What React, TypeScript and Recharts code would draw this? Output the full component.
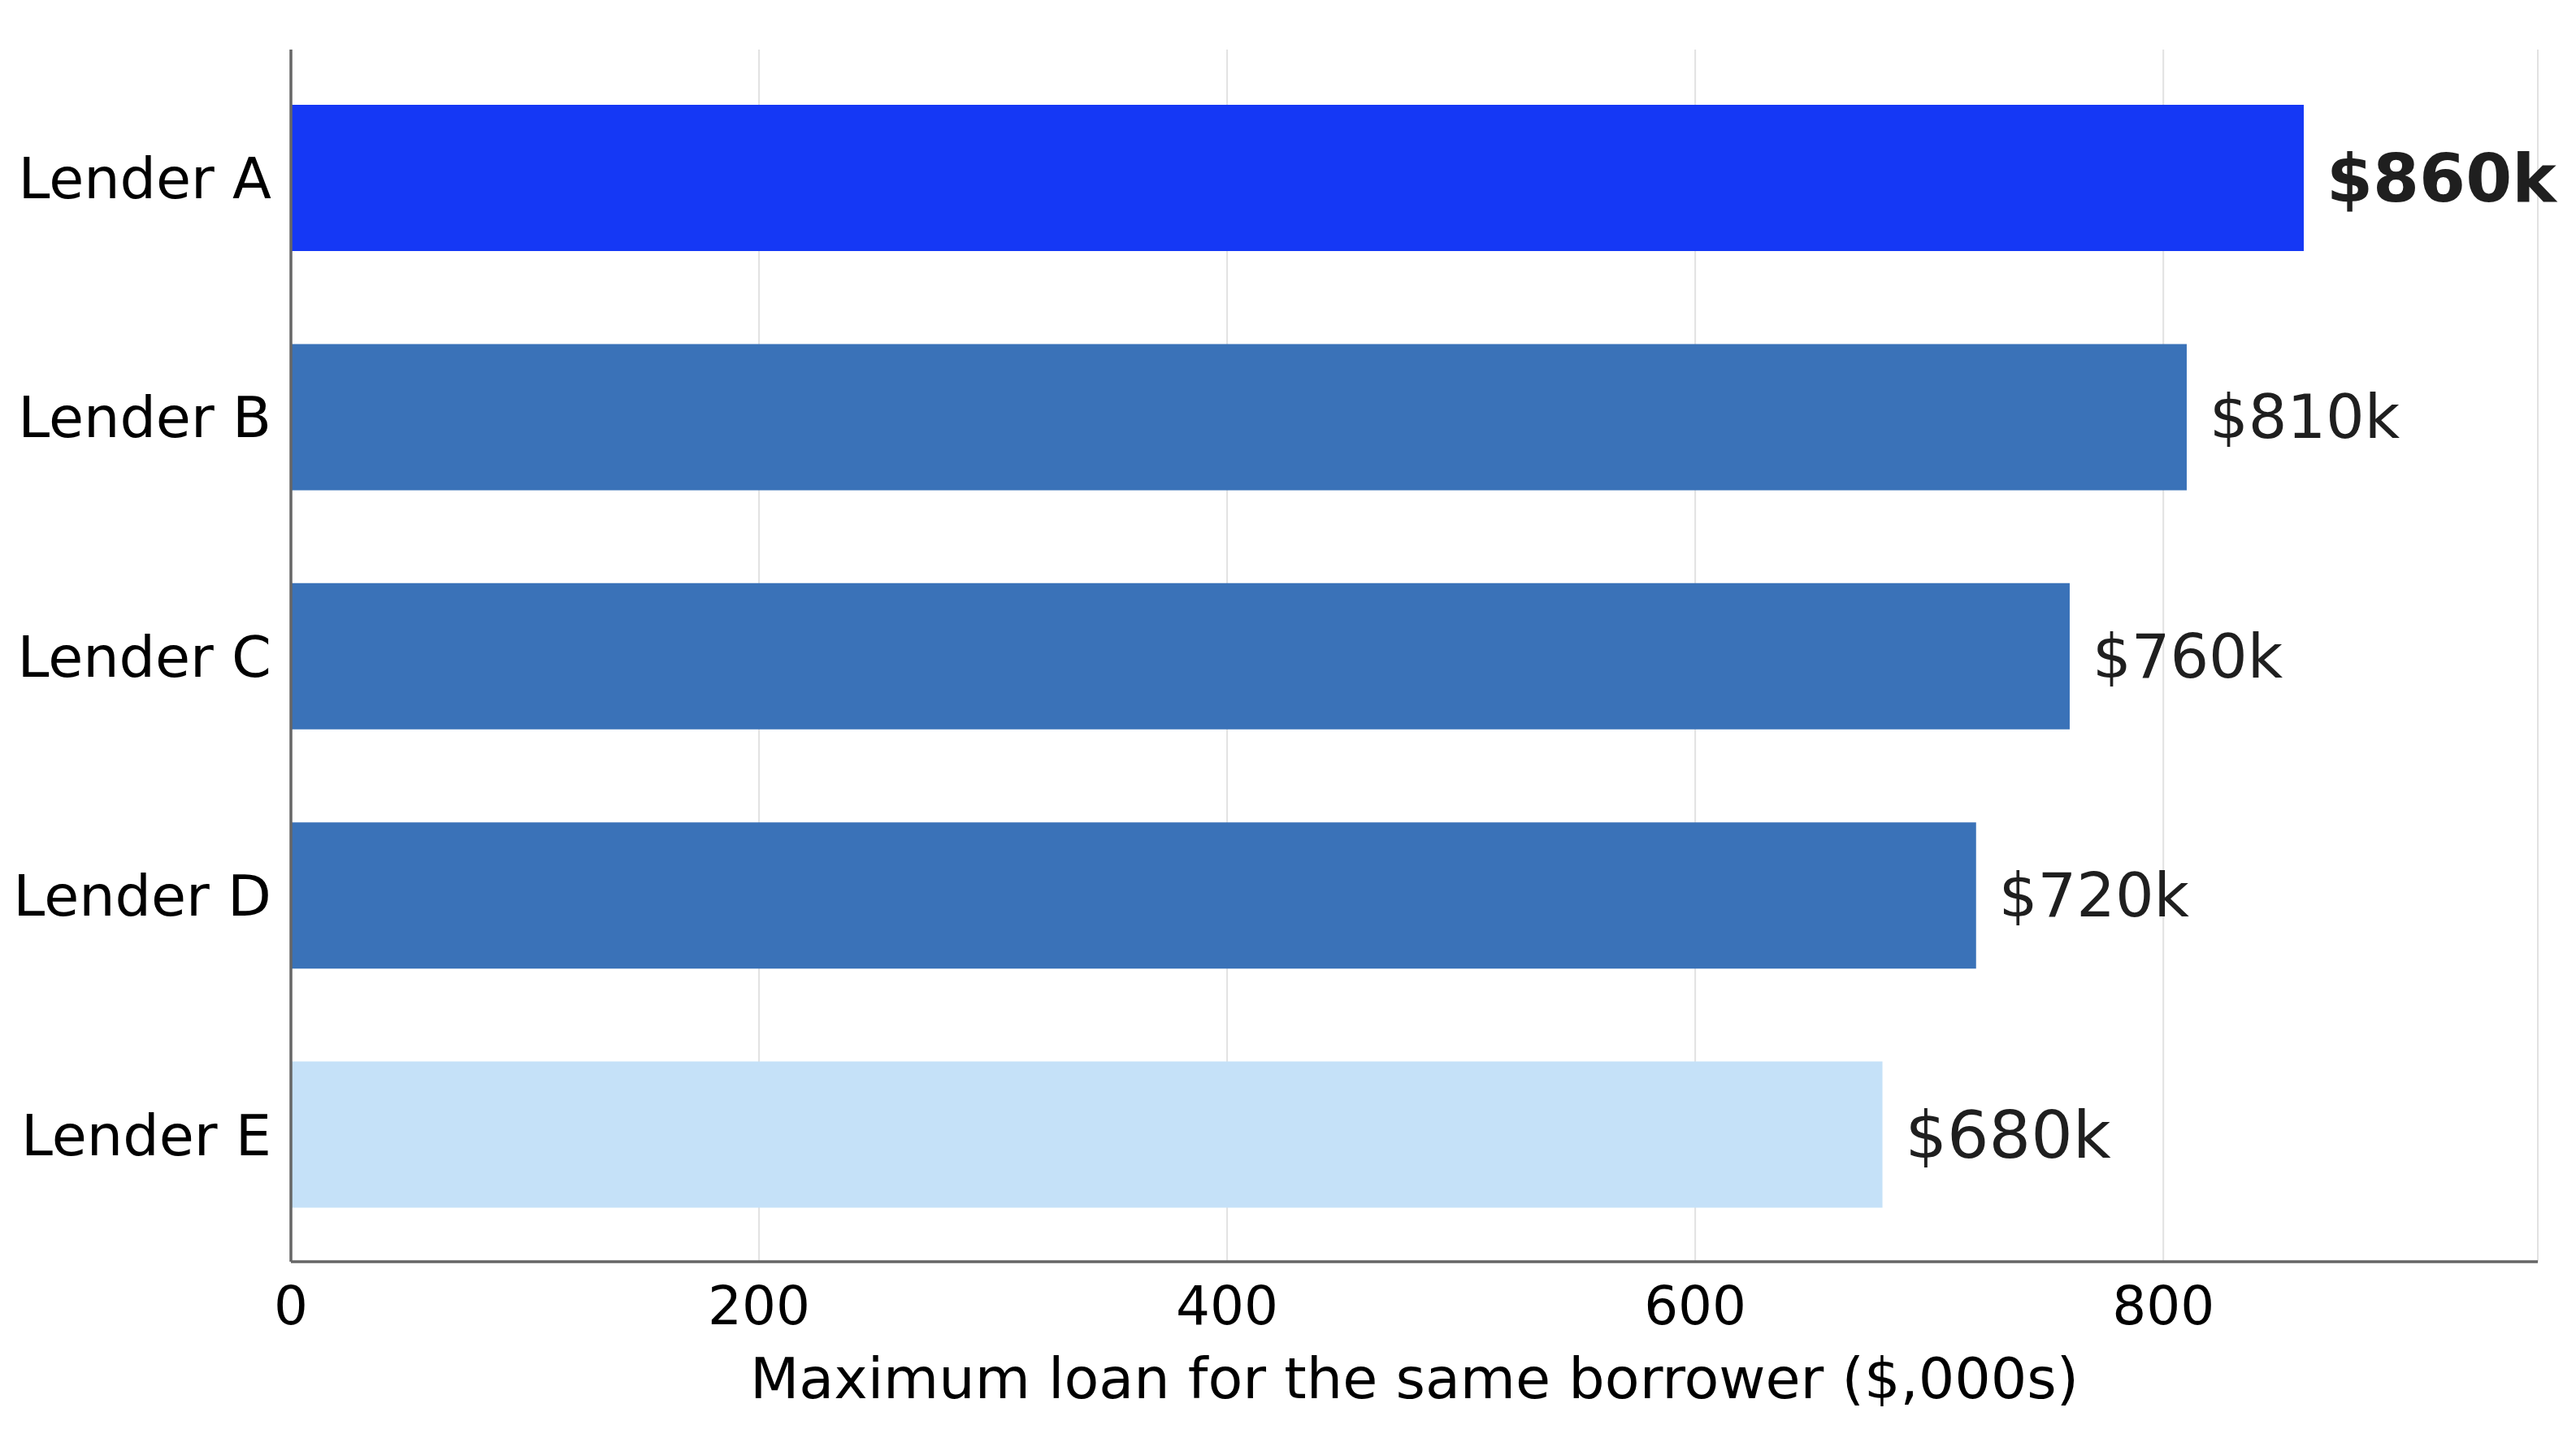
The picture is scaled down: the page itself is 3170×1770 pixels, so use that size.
import { BarChart, Bar, XAxis, YAxis, CartesianGrid, Cell, LabelList, Label } from 'recharts';

const lenders = ['Lender A', 'Lender B', 'Lender C', 'Lender D', 'Lender E'];
const maxLoan = [860, 810, 760, 720, 680];
const valueLabels = ['$860k', '$810k', '$760k', '$720k', '$680k'];
const xTicks = [0, 200, 400, 600, 800];

const barColors = ['#1538f5', '#3a72b8', '#3a72b8', '#3a72b8', '#c5e1f8'];
const labelSizes = [82, 75, 75, 75, 81];
const FONT = '"DejaVu Sans", sans-serif';

const data = lenders.map((name, i) => ({ name, value: maxLoan[i], label: valueLabels[i] }));

const ValueLabel = (props: any) => {
  const { x, y, width, height, index } = props;
  return (
    <text
      x={x + width + 28}
      y={y + height / 2}
      dominantBaseline="central"
      fontFamily={FONT}
      fontSize={labelSizes[index]}
      fontWeight={index === 0 ? 'bold' : 'normal'}
      fill="#1f1f1f"
    >
      {valueLabels[index]}
    </text>
  );
};

const AxisTitle = (props: any) => {
  const { viewBox } = props;
  return (
    <text
      x={viewBox.x + viewBox.width / 2}
      y={viewBox.y + 168}
      textAnchor="middle"
      fontFamily={FONT}
      fontSize={70}
      fill="#000"
    >
      Maximum loan for the same borrower ($,000s)
    </text>
  );
};

const App = () => {
  return (
    <div style={{ width: 3154, height: 1754, background: '#fff' }}>
      <BarChart
        width={3154}
        height={1754}
        data={data}
        layout="vertical"
        margin={{ top: 53, right: 39, bottom: 9, left: 0 }}
        barSize={180}
      >
        <CartesianGrid horizontal={false} stroke="#e2e2e2" strokeWidth={2} />
        <XAxis
          type="number"
          domain={[0, 960]}
          ticks={xTicks}
          height={200}
          axisLine={{ stroke: '#666', strokeWidth: 3.5 }}
          tickLine={false}
          tickSize={0}
          tickMargin={30}
          tick={{ fontFamily: FONT, fontSize: 66, fill: '#000' }}
        >
          <Label content={<AxisTitle />} />
        </XAxis>
        <YAxis
          type="category"
          dataKey="name"
          width={350}
          padding={{ top: 11, bottom: 9 }}
          axisLine={{ stroke: '#666', strokeWidth: 3.5 }}
          tickLine={false}
          tickSize={0}
          tickMargin={24}
          tick={{ fontFamily: FONT, fontSize: 70, fill: '#000' }}
        />
        <Bar dataKey="value" isAnimationActive={false}>
          {data.map((d, i) => (
            <Cell key={d.name} fill={barColors[i]} />
          ))}
          <LabelList dataKey="label" content={<ValueLabel />} />
        </Bar>
      </BarChart>
    </div>
  );
};

export default App;
